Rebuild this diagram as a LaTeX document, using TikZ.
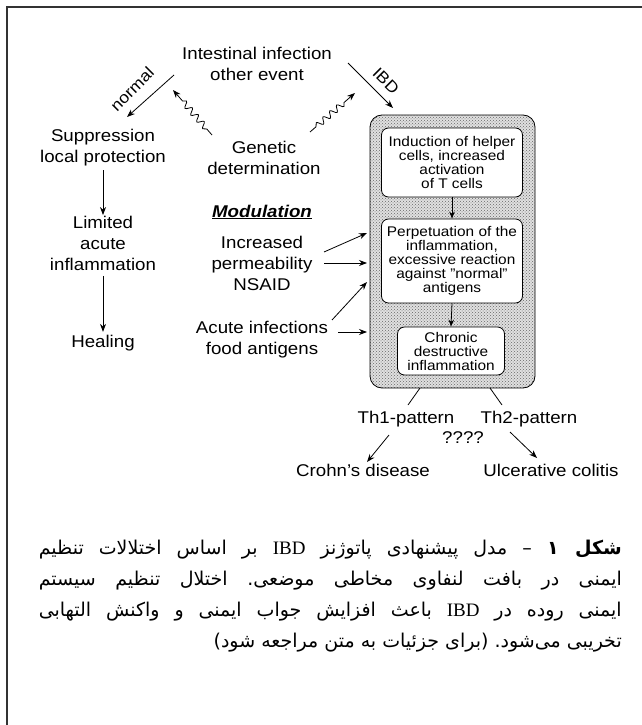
\documentclass[tikz,border=0pt]{standalone}
\usepackage{fontspec}
\setmainfont[FakeStretch=1.1]{Liberation Sans}
\newfontfamily\fa[Script=Arabic]{DejaVu Sans}
\newfontfamily\lserif{Liberation Serif}
\TeXXeTstate=1
\frenchspacing
\usetikzlibrary{arrows.meta,decorations.pathmorphing,patterns}
\begin{document}
\begin{tikzpicture}[x=1pt,y=-1pt,
  lbl/.style={align=center,font=\fontsize{17}{21}\selectfont,inner sep=0pt},
  rot/.style={inner sep=0pt,font=\fontsize{16}{16}\selectfont},
  inbox/.style={draw,fill=white,rounded corners=7pt,align=center,
    font=\fontsize{14}{14}\selectfont,inner sep=0pt,line width=0.8pt},
  outerbox/.style={draw,preaction={fill=black!12},pattern=crosshatch dots,pattern color=black!60,
    rounded corners=12pt,line width=0.8pt,inner sep=0pt},
  arr/.style={-{Stealth[length=8pt,width=6pt]},line width=0.8pt},
  shortarr/.style={-{Stealth[length=7pt,width=5.5pt]},line width=0.8pt},
  plain/.style={line width=0.8pt},
  wav/.style={arr,decorate,decoration={snake,amplitude=3pt,segment length=9pt,pre length=8pt,post length=10pt}},
  captext/.style={anchor=east,inner sep=0pt,font=\fa\fontsize{19}{19}\selectfont},
  frameline/.style={line width=2pt,black!80}]
\fill[white] (0,0) rectangle (642,725);
\useasboundingbox (0,0) rectangle (642,725);
\draw[frameline] (7,725) -- (7,7) -- (642,7);

% central shaded box
\node[outerbox,minimum width=165pt,minimum height=273pt] (outer) at (452.5,251.5) {};
\node[inbox,minimum width=141pt,minimum height=69pt] (b1) at (452,162.5)
  {Induction of helper\\cells, increased\\activation\\of T cells};
\node[inbox,minimum width=141pt,minimum height=84pt] (b2) at (452,261)
  {Perpetuation of the\\inflammation,\\excessive reaction\\against "normal"\\antigens};
\node[inbox,minimum width=107pt,minimum height=48pt] (b3) at (451,351)
  {Chronic\\destructive\\inflammation};
\draw[shortarr] (b1.south) -- (b2.north);
\draw[shortarr] (b2.south) -- (b3.north);

% labels
\node[lbl] (inf) at (257,63.5) {Intestinal infection\\other event};
\node[rot,rotate=45] (normal) at (132,89) {normal};
\node[rot,rotate=-45] (ibd) at (386,81) {IBD};
\node[lbl] (supp) at (103,147.5) {Suppression\\local protection};
\node[lbl] (gen) at (264,158) {Genetic\\determination};
\node[lbl] (lim) at (103,243.5) {Limited\\acute\\inflammation};
\node[lbl] (heal) at (103,343) {Healing};
\node[lbl,font=\fontsize{17}{21}\selectfont\bfseries\itshape] (mod) at (262,212) {\underline{Modulation}};
\node[lbl] (perm) at (262,263) {Increased\\permeability\\NSAID};
\node[lbl] (acute) at (262,340) {Acute infections\\food antigens};
\node[lbl] (th1) at (406,419) {Th1-pattern};
\node[lbl] (th2) at (529,419) {Th2-pattern};
\node[lbl] (qq) at (463,438) {????};
\node[lbl] (crohn) at (363,470) {Crohn's disease};
\node[lbl] (uc) at (551,470) {Ulcerative colitis};

% connector end points
\coordinate (nA) at (174,75);  \coordinate (nB) at (127,117);
\coordinate (iA) at (348,63);  \coordinate (iB) at (393,108);
\coordinate (w1a) at (212,135); \coordinate (w1b) at (173,90);
\coordinate (w2a) at (310,132); \coordinate (w2b) at (355,93);
\coordinate (m1a) at (324,252); \coordinate (m1b) at (367,233);
\coordinate (m2a) at (324,263); \coordinate (m2b) at (367,263);
\coordinate (m3a) at (332,320); \coordinate (m3b) at (367,282);
\coordinate (m4a) at (338,332); \coordinate (m4b) at (367,332);
\coordinate (t1a) at (420,388); \coordinate (t1b) at (408,405);
\coordinate (t2a) at (490,388); \coordinate (t2b) at (502,405);
\coordinate (c1a) at (389,435); \coordinate (c1b) at (367,462);
\coordinate (c2a) at (510,432); \coordinate (c2b) at (537,458);

\draw[arr] (nA) -- (nB);
\draw[arr] (iA) -- (iB);
\draw[wav] (w1a) -- (w1b);
\draw[wav] (w2a) -- (w2b);
\draw[arr,shorten <=4pt,shorten >=1pt] (supp.south) -- (lim.north);
\draw[arr,shorten <=5pt,shorten >=3pt] (lim.south) -- (heal.north);
\draw[arr] (m1a) -- (m1b);
\draw[arr] (m2a) -- (m2b);
\draw[arr] (m3a) -- (m3b);
\draw[arr] (m4a) -- (m4b);
\draw[plain] (t1a) -- (t1b);
\draw[plain] (t2a) -- (t2b);
\draw[arr] (c1a) -- (c1b);
\draw[arr] (c2a) -- (c2b);

% caption
\node[captext] (cap1) at (622,550) {\makebox[583pt][s]{\beginR{\bfseries شکل ۱} – مدل پیشنهادی پاتوژنز \beginL{\lserif IBD}\endL{} بر اساس اختلالات تنظیم\endR}};
\node[captext] (cap2) at (622,581) {\makebox[583pt][s]{\beginR ایمنی در بافت لنفاوی مخاطی موضعی. اختلال تنظیم سیستم\endR}};
\node[captext] (cap3) at (622,612) {\makebox[583pt][s]{\beginR ایمنی روده در \beginL{\lserif IBD}\endL{} باعث افزایش جواب ایمنی و واکنش التهابی\endR}};
\node[captext] (cap4) at (622,643) {\beginR تخریبی می‌شود. (برای جزئیات به متن مراجعه شود)\endR};
\end{tikzpicture}
\end{document}
